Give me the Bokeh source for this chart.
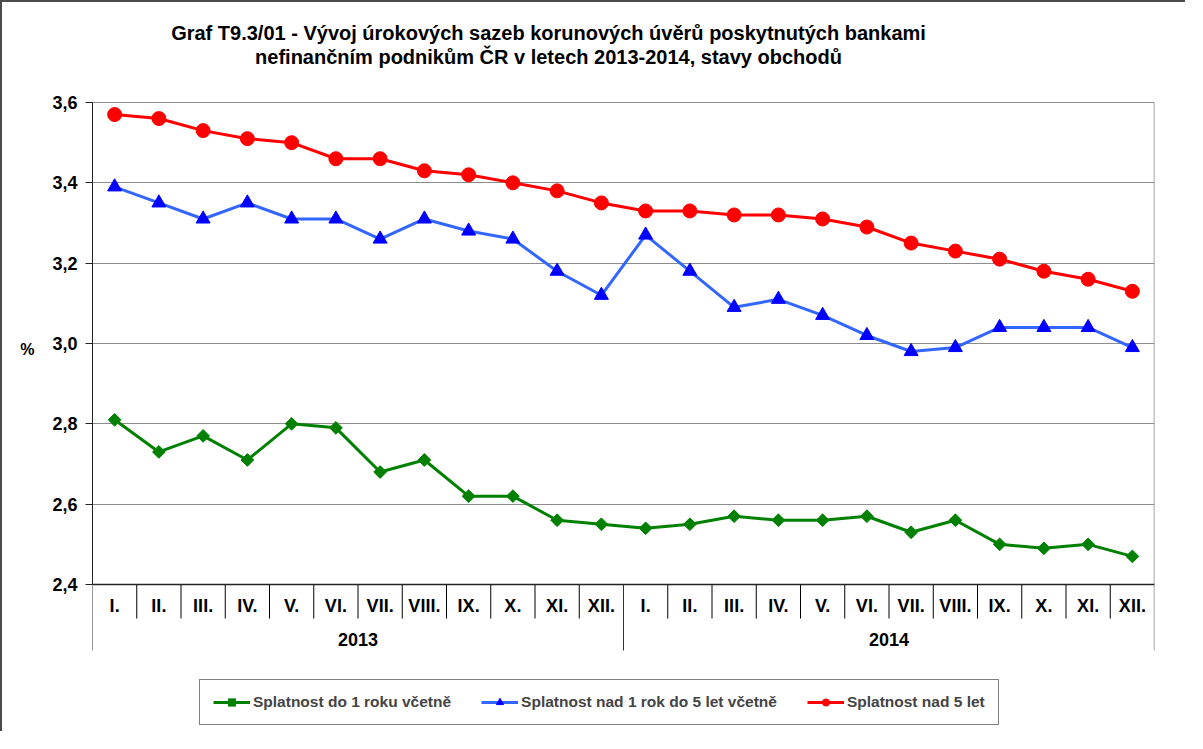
import numpy as np
from bokeh.plotting import figure
from bokeh.models import (Range1d, FixedTicker, CustomJSTickFormatter, Legend,
                          LegendItem, ColumnDataSource, LinearAxis)
from bokeh.core.properties import value
from bokeh.embed import file_html
from bokeh.resources import INLINE

# ---------------- data ----------------
TITLE_LINES = [
    "Graf T9.3/01 - Vývoj úrokových sazeb korunových úvěrů poskytnutých bankami",
    "nefinančním podnikům ČR v letech 2013-2014, stavy obchodů",
]
Y_UNIT = "%"
YEARS = ["2013", "2014"]
MONTHS = ["I.", "II.", "III.", "IV.", "V.", "VI.", "VII.", "VIII.", "IX.", "X.", "XI.", "XII."]
SERIES_NAMES = [
    "Splatnost do 1 roku včetně",
    "Splatnost nad 1 rok do 5 let včetně",
    "Splatnost nad 5 let",
]
short_term = [2.81, 2.73, 2.77, 2.71, 2.80, 2.79, 2.68, 2.71, 2.62, 2.62, 2.56, 2.55,
              2.54, 2.55, 2.57, 2.56, 2.56, 2.57, 2.53, 2.56, 2.50, 2.49, 2.50, 2.47]
mid_term = [3.39, 3.35, 3.31, 3.35, 3.31, 3.31, 3.26, 3.31, 3.28, 3.26, 3.18, 3.12,
            3.27, 3.18, 3.09, 3.11, 3.07, 3.02, 2.98, 2.99, 3.04, 3.04, 3.04, 2.99]
long_term = [3.57, 3.56, 3.53, 3.51, 3.50, 3.46, 3.46, 3.43, 3.42, 3.40, 3.38, 3.35,
             3.33, 3.33, 3.32, 3.32, 3.31, 3.29, 3.25, 3.23, 3.21, 3.18, 3.16, 3.13]
Y_TICKS = [2.4, 2.6, 2.8, 3.0, 3.2, 3.4, 3.6]
Y_MIN, Y_MAX = 2.4, 3.6

# ---------------- layout constants (pixels, canvas starts at page (10,10)) ----------------
W, H = 1185, 731
LEFT, RIGHT = 90, 33               # frame: page x 100 .. 1162
PLOT_TOP, PLOT_BOTTOM = 100, 582   # canvas rows of 3.6 and 2.4 (page 110 / 592)
FRAME_W = W - LEFT - RIGHT
N = len(MONTHS) * len(YEARS)
PY = (Y_MAX - Y_MIN) / (PLOT_BOTTOM - PLOT_TOP)   # data units per px (vertical)
PX = N / FRAME_W                                   # data units per px (horizontal)
y_top = Y_MAX + PLOT_TOP * PY
y_bot = Y_MIN - (H - PLOT_BOTTOM) * PY


def ybelow(px):
    return Y_MIN - px * PY


def yabove(px):
    return Y_MAX + px * PY


FONT = value("Liberation Sans")

p = figure(width=W, height=H, output_backend="svg", toolbar_location=None,
           title=None, x_range=Range1d(0, N), y_range=Range1d(y_bot, y_top),
           min_border_left=LEFT, min_border_right=RIGHT, min_border_top=0,
           min_border_bottom=0, x_axis_location=None,
           styles={"border-left": "2px solid #4a4a4a", "border-top": "2px solid #4a4a4a"})
p.outline_line_color = None
p.background_fill_color = "white"
p.border_fill_color = "white"

# y axis
ya = p.yaxis[0]
ya.bounds = (Y_MIN, Y_MAX)
ya.ticker = FixedTicker(ticks=Y_TICKS)
ya.formatter = CustomJSTickFormatter(code="return tick.toFixed(1).replace('.', ',')")
ya.major_tick_out = 7
ya.major_tick_in = 0
ya.minor_tick_line_color = None
ya.axis_line_color = "#222222"
ya.major_tick_line_color = "#222222"
ya.major_label_standoff = 8
ya.major_label_text_font = "Liberation Sans"
ya.major_label_text_font_style = "bold"
ya.major_label_text_font_size = "18px"
ya.major_label_text_color = "black"

# unit label "%" as a tick label of a second (bare) left axis
unit_axis = LinearAxis(
    ticker=FixedTicker(ticks=[Y_MAX - (357 - 110) * PY]),
    formatter=CustomJSTickFormatter(code="return '%s'" % Y_UNIT),
    axis_line_color=None, major_tick_line_color=None, minor_tick_line_color=None,
    major_tick_out=0, major_tick_in=0, major_label_standoff=15,
    major_label_text_font="Liberation Sans", major_label_text_font_style="bold",
    major_label_text_font_size="16px", major_label_text_color="black")
p.add_layout(unit_axis, "left")

p.ygrid.ticker = FixedTicker(ticks=Y_TICKS)
p.ygrid.grid_line_color = "#8c8c8c"
p.ygrid.grid_line_width = 1
p.xgrid.visible = False

# category table below the plot area
xc = np.arange(N) + 0.5
month_sep_x = [i for i in range(1, N) if i % len(MONTHS) != 0]
year_sep_x = [i * len(MONTHS) for i in range(1, len(YEARS))]
p.segment(x0=month_sep_x, y0=[Y_MIN] * len(month_sep_x), x1=month_sep_x,
          y1=[ybelow(34)] * len(month_sep_x), line_color="black", line_width=1)
p.segment(x0=[0] + year_sep_x, y0=[Y_MIN] * (1 + len(year_sep_x)),
          x1=[0] + year_sep_x, y1=[ybelow(66)] * (1 + len(year_sep_x)),
          line_color="#333333", line_width=1)
p.segment(x0=[N], y0=[ybelow(66)], x1=[N], y1=[Y_MAX], line_color="#8c8c8c", line_width=1.5)
p.segment(x0=[0], y0=[Y_MIN], x1=[N], y1=[Y_MIN], line_color="#222222", line_width=1.5)

p.text(x=xc, y=[ybelow(21)] * N, text=MONTHS * len(YEARS), text_font=FONT,
       text_font_style="bold", text_font_size=value("18px"), text_align="center",
       text_baseline="middle", text_color="black")
year_x = [len(MONTHS) * (i + 0.5) for i in range(len(YEARS))]
p.text(x=year_x, y=[ybelow(55)] * len(YEARS), text=YEARS, text_font=FONT,
       text_font_style="bold", text_font_size=value("18px"), text_align="center",
       text_baseline="middle", text_color="black")

# title
title_cx = (556 - 100) * PX
p.text(x=[title_cx, title_cx], y=[yabove(70), yabove(46)], text=TITLE_LINES,
       text_font=FONT, text_font_style="bold", text_font_size=value("20px"),
       text_align="center", text_baseline="middle", text_color="black")

# series
src = ColumnDataSource(dict(x=xc, s=short_term, m=mid_term, l=long_term))
gl = p.line("x", "s", source=src, line_color="#008000", line_width=3)
gm = p.scatter("x", "s", source=src, marker="square", angle=np.pi / 4, size=9,
               fill_color="#008000", line_color="#008000")
bl = p.line("x", "m", source=src, line_color="#3366ff", line_width=3)
bm = p.scatter("x", "m", source=src, marker="triangle", size=14,
               fill_color="#0000ff", line_color="#0000ff")
rl = p.line("x", "l", source=src, line_color="#ff0000", line_width=3)
rm = p.scatter("x", "l", source=src, marker="circle", size=14,
               fill_color="#ff0000", line_color="#ff0000")

legend = Legend(items=[
    LegendItem(label=SERIES_NAMES[0], renderers=[gl, gm]),
    LegendItem(label=SERIES_NAMES[1], renderers=[bl, bm]),
    LegendItem(label=SERIES_NAMES[2], renderers=[rl, rm]),
], orientation="horizontal", location=(107, 8))
legend.border_line_color = "black"
legend.border_line_width = 1
legend.background_fill_color = "white"
legend.background_fill_alpha = 1
legend.label_text_font = "Liberation Sans"
legend.label_text_font_style = "bold"
legend.label_text_font_size = "15.5px"
legend.label_height = 18
legend.glyph_width = 37
legend.glyph_height = 18
legend.label_standoff = 3
legend.spacing = 30
legend.padding = 13
legend.margin = 0
p.add_layout(legend)

open("out.html", "w").write(file_html(p, INLINE))
